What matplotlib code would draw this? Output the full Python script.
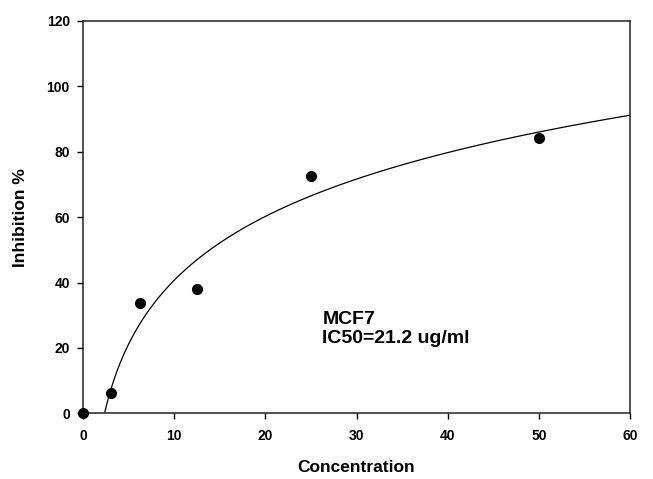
import numpy as np
import matplotlib
matplotlib.use("Agg")
import matplotlib.pyplot as plt

plt.rcParams['font.family'] = ['Liberation Sans', 'DejaVu Sans']

# data
concentration = [0, 3.125, 6.25, 12.5, 25, 50]
inhibition = [0.2, 6.1, 33.8, 38.0, 72.7, 84.3]
x_ticks = [0, 10, 20, 30, 40, 50, 60]
y_ticks = [0, 20, 40, 60, 80, 100, 120]
annotation = "MCF7\nIC50=21.2 ug/ml"

# logarithmic regression of the non-zero points
cx = np.array(concentration[1:])
cy = np.array(inhibition[1:])
a, b = np.polyfit(np.log(cx), cy, 1)
xf = np.linspace(0.5, 60, 400)
yf = a * np.log(xf) + b

fig = plt.figure(figsize=(6.53, 4.79), dpi=100)
ax = fig.add_axes([83/653, 1 - 413.3/479, (630-83)/653, (413.3-21)/479])
ax.plot(xf, yf, color='black', lw=0.9)
ax.plot(concentration, inhibition, 'o', color='black', ms=7, clip_on=False, zorder=3)
ax.set_xlim(0, 60)
ax.set_ylim(0, 120)
ax.set_xticks(x_ticks)
ax.set_yticks(y_ticks)
ax.tick_params(direction='out', length=4.5, width=1, labelsize=10)
ax.tick_params(axis='x', pad=7)
ax.tick_params(axis='y', pad=5)
for lab in ax.get_xticklabels() + ax.get_yticklabels():
    lab.set_fontweight('bold')
for s in ax.spines.values():
    s.set_linewidth(1.1)
    s.set_color('#222222')
ax.set_xlabel('Concentration', fontsize=12.5, fontweight='bold')
ax.xaxis.set_label_coords(0.499, -0.139)
ax.xaxis.label.set_va('center')
ax.set_ylabel('Inhibition %', fontsize=12.5, fontweight='bold')
ax.yaxis.set_label_coords(-0.115, 0.5)
ax.yaxis.label.set_va('center')
ax.text(26.25, (413.3 - 310.5) / 392.3 * 120, annotation, fontsize=14, fontweight='bold',
        ha='left', va='top', linespacing=1.22)
fig.savefig('out.png', dpi=100)
